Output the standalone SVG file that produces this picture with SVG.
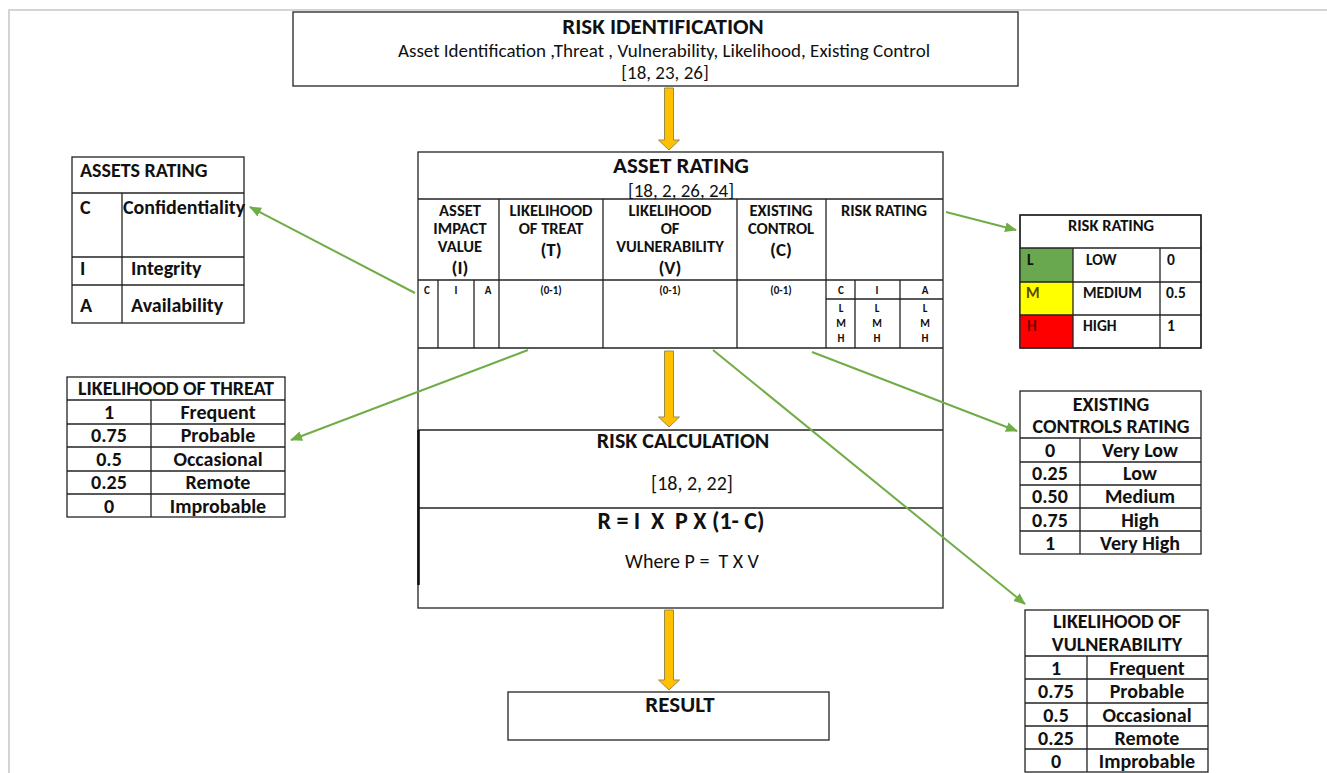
<svg xmlns="http://www.w3.org/2000/svg" width="1327" height="773" viewBox="0 0 1327 773">
<style>
text{font-family:Carlito,Lato,"Liberation Sans",sans-serif;fill:#111}
.b{font-weight:bold}
.c{text-anchor:middle}
.box{fill:#fff;stroke:#222;stroke-width:1.3}
.ln{stroke:#222;stroke-width:1.3;fill:none}
.g{stroke:#70AD47;stroke-width:2;fill:none;marker-end:url(#ga)}
.ya{fill:#FFC000;stroke:#9c8a4a;stroke-width:1}
.h17{font-size:16.5px}
.s20{font-size:20px}
.s19{font-size:19px}
.s155{font-size:15.5px}
.t23{font-size:23px}
.t22{font-size:22px}
.t24{font-size:24px}
.s11{font-size:11px}
</style>
<defs>
<marker id="ga" markerWidth="12" markerHeight="10" refX="11" refY="5" orient="auto" markerUnits="userSpaceOnUse">
<path d="M0,0 L12,5 L0,10 Z" fill="#70AD47"/>
</marker>
</defs>
<rect width="1327" height="773" fill="#fff"/>
<g id="page-border" stroke="#d4d4d4" stroke-width="2">
<line x1="8" y1="10" x2="1327" y2="10"/>
<line x1="9" y1="10" x2="9" y2="773"/>
</g>

<g id="risk-identification">
<rect class="box" x="293" y="12" width="725" height="74"/>
<text class="b c t23" x="663" y="33.5">RISK IDENTIFICATION</text>
<text class="c s19" x="664" y="56.5">Asset Identification ,Threat , Vulnerability, Likelihood, Existing Control</text>
<text class="c s19" x="665" y="78.5">[18, 23, 26]</text>
</g>

<g id="asset-rating">
<rect class="box" x="418" y="152" width="525" height="456"/>
<line class="ln" x1="418" y1="199" x2="943" y2="199"/>
<line class="ln" x1="418" y1="280" x2="943" y2="280"/>
<line class="ln" x1="418" y1="348" x2="943" y2="348"/>
<line class="ln" x1="499" y1="199" x2="499" y2="348"/>
<line class="ln" x1="603" y1="199" x2="603" y2="348"/>
<line class="ln" x1="737" y1="199" x2="737" y2="348"/>
<line class="ln" x1="826" y1="199" x2="826" y2="348"/>
<line class="ln" x1="438" y1="280" x2="438" y2="348"/>
<line class="ln" x1="474" y1="280" x2="474" y2="348"/>
<line class="ln" x1="855" y1="280" x2="855" y2="348"/>
<line class="ln" x1="900" y1="280" x2="900" y2="348"/>
<line class="ln" x1="826" y1="299" x2="943" y2="299"/>
<text class="b c t23" x="681" y="172.5">ASSET RATING</text>
<text class="c s19" x="681" y="196.5">[18, 2, 26, 24]</text>
<text class="b c h17" x="460" y="215.5">ASSET</text>
<text class="b c h17" x="460" y="233.5">IMPACT</text>
<text class="b c h17" x="460" y="252">VALUE</text>
<text class="b c s19" x="460" y="274">(I)</text>
<text class="b c h17" x="551" y="215.5">LIKELIHOOD</text>
<text class="b c h17" x="551" y="233.5">OF TREAT</text>
<text class="b c s19" x="551" y="256">(T)</text>
<text class="b c h17" x="670" y="215.5">LIKELIHOOD</text>
<text class="b c h17" x="670" y="233.5">OF</text>
<text class="b c h17" x="670" y="252">VULNERABILITY</text>
<text class="b c s19" x="670" y="274">(V)</text>
<text class="b c h17" x="781" y="215.5">EXISTING</text>
<text class="b c h17" x="781" y="233.5">CONTROL</text>
<text class="b c s19" x="781" y="256">(C)</text>
<text class="b c h17" x="884" y="215.5">RISK RATING</text>
<text class="b c s11" x="427" y="294">C</text>
<text class="b c s11" x="456" y="294">I</text>
<text class="b c s11" x="488" y="294">A</text>
<text class="b c s11" x="551" y="294">(0-1)</text>
<text class="b c s11" x="670" y="294">(0-1)</text>
<text class="b c s11" x="781" y="294">(0-1)</text>
<text class="b c s11" x="841" y="294">C</text>
<text class="b c s11" x="877" y="294">I</text>
<text class="b c s11" x="925" y="294">A</text>
<text class="b c s11" x="841" y="312">L</text>
<text class="b c s11" x="841" y="327">M</text>
<text class="b c s11" x="841" y="342">H</text>
<text class="b c s11" x="877" y="312">L</text>
<text class="b c s11" x="877" y="327">M</text>
<text class="b c s11" x="877" y="342">H</text>
<text class="b c s11" x="925" y="312">L</text>
<text class="b c s11" x="925" y="327">M</text>
<text class="b c s11" x="925" y="342">H</text>
</g>

<g id="risk-calculation">
<line class="ln" x1="418" y1="430" x2="943" y2="430"/>
<line class="ln" x1="418" y1="508" x2="943" y2="508"/>
<line x1="418.5" y1="430" x2="418.5" y2="585" stroke="#111" stroke-width="2.6"/>
<text class="b c t22" x="683" y="448">RISK CALCULATION</text>
<text class="c s20" x="692" y="490">[18, 2, 22]</text>
<text class="b c t24" x="681" y="529" xml:space="preserve">R = I  X  P X (1- C)</text>
<text class="c s20" x="692" y="567.5" xml:space="preserve">Where P =  T X V</text>
</g>

<g id="result">
<rect class="box" x="508" y="692" width="321" height="48"/>
<text class="b c t23" x="680" y="712">RESULT</text>
</g>

<g id="assets-rating">
<rect class="box" x="72" y="157" width="172" height="166"/>
<line class="ln" x1="72" y1="193" x2="244" y2="193"/>
<line class="ln" x1="72" y1="257" x2="244" y2="257"/>
<line class="ln" x1="72" y1="285" x2="244" y2="285"/>
<line class="ln" x1="122" y1="193" x2="122" y2="323"/>
<text class="b s20" x="80" y="176.5">ASSETS RATING</text>
<text class="b s20" x="80" y="213.5">C</text>
<text class="b s20" x="123" y="213.5">Confidentiality</text>
<text class="b s20" x="80" y="274.5">I</text>
<text class="b s20" x="131" y="274.5">Integrity</text>
<text class="b s20" x="80" y="311.5">A</text>
<text class="b s20" x="131" y="311.5">Availability</text>
</g>

<g id="risk-rating-scale">
<rect class="box" x="1020" y="215" width="181" height="133"/>
<rect x="1020" y="248" width="53" height="34" fill="#6AA84F"/>
<rect x="1020" y="282" width="53" height="33" fill="#FFFF00"/>
<rect x="1020" y="315" width="53" height="33" fill="#FF0000"/>
<line class="ln" x1="1020" y1="248" x2="1201" y2="248"/>
<line class="ln" x1="1020" y1="282" x2="1201" y2="282"/>
<line class="ln" x1="1020" y1="315" x2="1201" y2="315"/>
<line class="ln" x1="1073" y1="248" x2="1073" y2="348"/>
<line class="ln" x1="1160" y1="248" x2="1160" y2="348"/>
<rect x="1020" y="215" width="181" height="133" fill="none" stroke="#222" stroke-width="1.3"/>
<text class="b c h17" x="1111" y="231">RISK RATING</text>
<text class="b s155" x="1027" y="265">L</text>
<text class="b s155" x="1026" y="298" style="fill:#5a4a00">M</text>
<text class="b s155" x="1027" y="331" style="fill:#7a0000">H</text>
<text class="b s155" x="1086" y="265">LOW</text>
<text class="b s155" x="1083" y="298">MEDIUM</text>
<text class="b s155" x="1083" y="331">HIGH</text>
<text class="b s155" x="1167" y="265">0</text>
<text class="b s155" x="1166" y="298">0.5</text>
<text class="b s155" x="1167" y="331">1</text>
</g>

<g id="likelihood-of-threat">
<rect class="box" x="67" y="377" width="218" height="140"/>
<line class="ln" x1="67" y1="400" x2="285" y2="400"/>
<line class="ln" x1="67" y1="424" x2="285" y2="424"/>
<line class="ln" x1="67" y1="447" x2="285" y2="447"/>
<line class="ln" x1="67" y1="471" x2="285" y2="471"/>
<line class="ln" x1="67" y1="494" x2="285" y2="494"/>
<line class="ln" x1="151" y1="400" x2="151" y2="517"/>
<text class="b c s20" x="176" y="395">LIKELIHOOD OF THREAT</text>
<text class="b c s20" x="109" y="418.5">1</text>
<text class="b c s20" x="218" y="418.5">Frequent</text>
<text class="b c s20" x="109" y="442">0.75</text>
<text class="b c s20" x="218" y="442">Probable</text>
<text class="b c s20" x="109" y="465.5">0.5</text>
<text class="b c s20" x="218" y="465.5">Occasional</text>
<text class="b c s20" x="109" y="489">0.25</text>
<text class="b c s20" x="218" y="489">Remote</text>
<text class="b c s20" x="109" y="512.5">0</text>
<text class="b c s20" x="218" y="512.5">Improbable</text>
</g>

<g id="existing-controls-rating">
<rect class="box" x="1020" y="391" width="181" height="163"/>
<line class="ln" x1="1020" y1="438" x2="1201" y2="438"/>
<line class="ln" x1="1020" y1="462" x2="1201" y2="462"/>
<line class="ln" x1="1020" y1="485" x2="1201" y2="485"/>
<line class="ln" x1="1020" y1="508" x2="1201" y2="508"/>
<line class="ln" x1="1020" y1="531" x2="1201" y2="531"/>
<line class="ln" x1="1080" y1="438" x2="1080" y2="554"/>
<text class="b c s20" x="1111" y="411">EXISTING</text>
<text class="b c s20" x="1111" y="433">CONTROLS RATING</text>
<text class="b c s20" x="1050" y="456.5">0</text>
<text class="b c s20" x="1140" y="456.5">Very Low</text>
<text class="b c s20" x="1050" y="479.5">0.25</text>
<text class="b c s20" x="1140" y="479.5">Low</text>
<text class="b c s20" x="1050" y="502.5">0.50</text>
<text class="b c s20" x="1140" y="502.5">Medium</text>
<text class="b c s20" x="1050" y="526.5">0.75</text>
<text class="b c s20" x="1140" y="526.5">High</text>
<text class="b c s20" x="1050" y="549.5">1</text>
<text class="b c s20" x="1140" y="549.5">Very High</text>
</g>

<g id="likelihood-of-vulnerability">
<rect class="box" x="1025" y="610" width="183" height="162"/>
<line class="ln" x1="1025" y1="656" x2="1208" y2="656"/>
<line class="ln" x1="1025" y1="679" x2="1208" y2="679"/>
<line class="ln" x1="1025" y1="703" x2="1208" y2="703"/>
<line class="ln" x1="1025" y1="726" x2="1208" y2="726"/>
<line class="ln" x1="1025" y1="749" x2="1208" y2="749"/>
<line class="ln" x1="1087" y1="656" x2="1087" y2="772"/>
<text class="b c s20" x="1117" y="627.5">LIKELIHOOD OF</text>
<text class="b c s20" x="1117" y="650.5">VULNERABILITY</text>
<text class="b c s20" x="1056" y="674.5">1</text>
<text class="b c s20" x="1147" y="674.5">Frequent</text>
<text class="b c s20" x="1056" y="697.5">0.75</text>
<text class="b c s20" x="1147" y="697.5">Probable</text>
<text class="b c s20" x="1056" y="721.5">0.5</text>
<text class="b c s20" x="1147" y="721.5">Occasional</text>
<text class="b c s20" x="1056" y="744.5">0.25</text>
<text class="b c s20" x="1147" y="744.5">Remote</text>
<text class="b c s20" x="1056" y="767.5">0</text>
<text class="b c s20" x="1147" y="767.5">Improbable</text>
</g>

<g id="connectors">
<polygon class="ya" points="664.5,88 673.5,88 673.5,140 679.5,140 669,150 658.5,140 664.5,140"/>
<polygon class="ya" points="664.5,351 673.5,351 673.5,417 679.5,417 669,427 658.5,417 664.5,417"/>
<polygon class="ya" points="664.5,610 673.5,610 673.5,680 679.5,680 669,690 658.5,680 664.5,680"/>
<line class="g" x1="415" y1="293" x2="250" y2="207"/>
<line class="g" x1="946" y1="212" x2="1016" y2="230"/>
<line class="g" x1="528" y1="350" x2="291" y2="440"/>
<line class="g" x1="812" y1="352" x2="1017" y2="431"/>
<line class="g" x1="713" y1="350" x2="1025" y2="604"/>
</g>
</svg>
